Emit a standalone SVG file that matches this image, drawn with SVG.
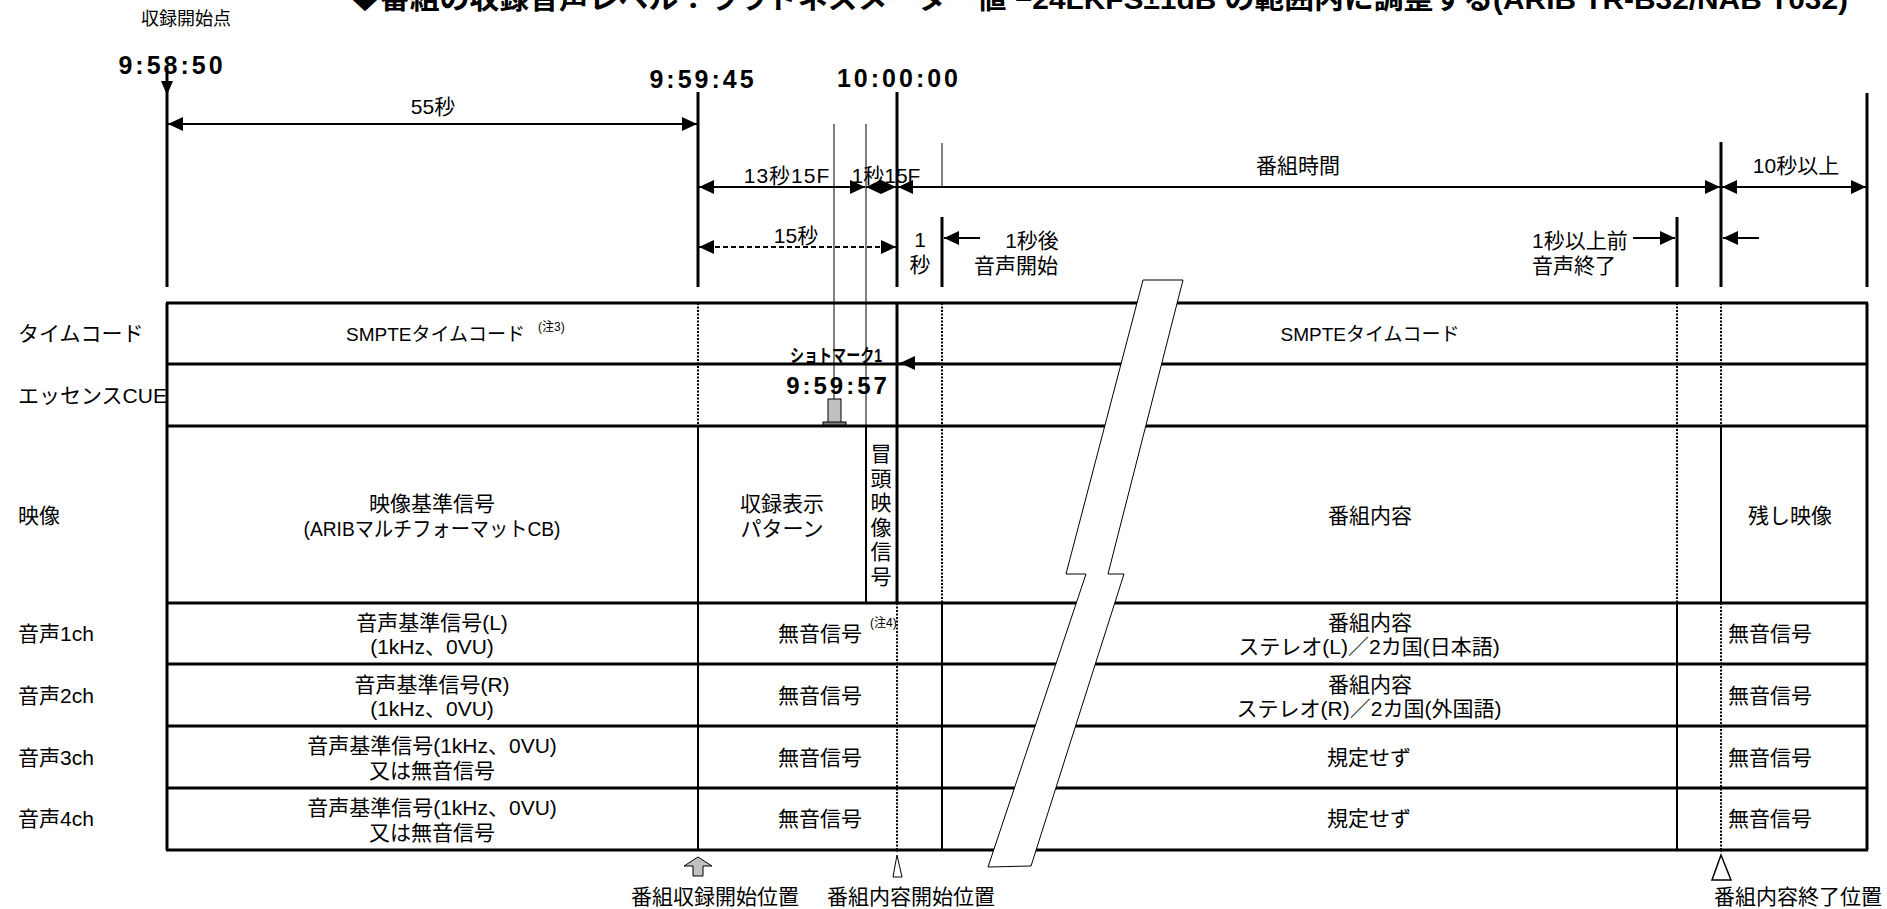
<svg xmlns="http://www.w3.org/2000/svg" width="1887" height="909" viewBox="0 0 1887 909">
<style>
text{font-family:"Liberation Sans","Noto Sans CJK JP",sans-serif;font-size:21px;fill:#000}
.c{text-anchor:middle}
.tm{font-weight:bold;font-size:25px;letter-spacing:3px}
.ttl{font-weight:bold;font-size:28px}
.sup{font-size:12px}
.k{stroke:#000;fill:none}
.w3{stroke-width:3}
.w2{stroke-width:2}
.w1{stroke-width:1}
.dot{stroke-dasharray:2 1.5}
.dash{stroke-dasharray:5 3}
</style>
<defs>
<marker id="ah" markerUnits="userSpaceOnUse" markerWidth="15" markerHeight="14" refX="15" refY="7" orient="auto-start-reverse" viewBox="0 0 15 14">
<path d="M0,0 L15,7 L0,14 z" fill="#000"/>
</marker>
</defs>
<rect width="1887" height="909" fill="#fff"/>

<g id="title">
<text class="ttl" x="350" y="9" textLength="1498" lengthAdjust="spacingAndGlyphs">◆番組の収録音声レベル：ラウドネスメーター値 −24LKFS±1dB の範囲内に調整する(ARIB TR-B32/NAB T032)</text>
</g>

<g id="timeline-labels">
<text class="c" x="186" y="25" style="font-size:18px">収録開始点</text>
<text class="c tm" x="172" y="74">9:58:50</text>
<text class="c tm" x="703" y="88">9:59:45</text>
<text class="c tm" x="899" y="87">10:00:00</text>
<text class="c" x="433" y="114">55秒</text>
<text class="c" x="787" y="183" style="letter-spacing:1px">13秒15F</text>
<text class="c" x="886" y="183">1秒15F</text>
<text class="c" x="796" y="243">15秒</text>
<text class="c" x="920" y="247">1</text>
<text class="c" x="920" y="272">秒</text>
<text class="c" x="1032" y="248">1秒後</text>
<text class="c" x="1016" y="273">音声開始</text>
<text x="1532" y="248">1秒以上前</text>
<text x="1532" y="273">音声終了</text>
<text class="c" x="1298" y="173">番組時間</text>
<text class="c" x="1796" y="173">10秒以上</text>
</g>

<g id="timeline-lines">
<line class="k w3" x1="167" y1="68" x2="167" y2="287"/>
<polygon points="161,81 173,81 167,95" fill="#000"/>
<line class="k w3" x1="698" y1="92" x2="698" y2="287"/>
<line class="k w3" x1="897" y1="92" x2="897" y2="287"/>
<line class="k w3" x1="1867" y1="93" x2="1867" y2="287"/>
<line class="k w3" x1="1721" y1="142" x2="1721" y2="287"/>
<line class="k w1" x1="834" y1="124" x2="834" y2="400"/>
<line class="k w1" x1="866" y1="124" x2="866" y2="426"/>
<line class="k w1" x1="942" y1="143" x2="942" y2="187"/>
<line class="k w3" x1="942" y1="217" x2="942" y2="287"/>
<line class="k w3" x1="1677" y1="217" x2="1677" y2="287"/>
</g>

<g id="connectors">
<line class="k w2" x1="168" y1="124" x2="697" y2="124" marker-start="url(#ah)" marker-end="url(#ah)"/>
<line class="k w2" x1="699" y1="187" x2="865" y2="187" marker-start="url(#ah)" marker-end="url(#ah)"/>
<line class="k w2" x1="866" y1="187" x2="896" y2="187" marker-start="url(#ah)" marker-end="url(#ah)"/>
<line class="k w2" x1="898" y1="187" x2="1720" y2="187" marker-start="url(#ah)" marker-end="url(#ah)"/>
<line class="k w2" x1="1722" y1="187" x2="1866" y2="187" marker-start="url(#ah)" marker-end="url(#ah)"/>
<line class="k w2 dash" x1="699" y1="247" x2="896" y2="247" marker-start="url(#ah)" marker-end="url(#ah)"/>
<line class="k w2" x1="980" y1="238" x2="944" y2="238" marker-end="url(#ah)"/>
<line class="k w2" x1="1633" y1="238" x2="1675" y2="238" marker-end="url(#ah)"/>
<line class="k w2" x1="1759" y1="238" x2="1723" y2="238" marker-end="url(#ah)"/>
<line class="k w1" x1="940" y1="363" x2="900" y2="363" marker-end="url(#ah)"/>
</g>

<g id="table-grid">
<line class="k w3" x1="166" y1="303" x2="1868" y2="303"/>
<line class="k w3" x1="166" y1="364" x2="1868" y2="364"/>
<line class="k w3" x1="166" y1="426" x2="1868" y2="426"/>
<line class="k w3" x1="166" y1="603" x2="1868" y2="603"/>
<line class="k w3" x1="166" y1="664" x2="1868" y2="664"/>
<line class="k w3" x1="166" y1="726" x2="1868" y2="726"/>
<line class="k w3" x1="166" y1="788" x2="1868" y2="788"/>
<line class="k w3" x1="166" y1="850" x2="1868" y2="850"/>
<line class="k w3" x1="167" y1="303" x2="167" y2="850"/>
<line class="k w3" x1="1867" y1="303" x2="1867" y2="850"/>
<line class="k w2 dot" x1="698" y1="303" x2="698" y2="426"/>
<line class="k w2" x1="698" y1="426" x2="698" y2="850"/>
<line class="k w2" x1="866" y1="426" x2="866" y2="603"/>
<line class="k w3" x1="897" y1="303" x2="897" y2="603"/>
<line class="k w2 dot" x1="897" y1="603" x2="897" y2="852"/>
<line class="k w2 dot" x1="942" y1="303" x2="942" y2="603"/>
<line class="k w2" x1="942" y1="603" x2="942" y2="850"/>
<line class="k w2 dot" x1="1677" y1="303" x2="1677" y2="603"/>
<line class="k w2" x1="1677" y1="603" x2="1677" y2="850"/>
<line class="k w2 dot" x1="1721" y1="303" x2="1721" y2="426"/>
<line class="k w2" x1="1721" y1="426" x2="1721" y2="603"/>
<line class="k w2 dot" x1="1721" y1="603" x2="1721" y2="852"/>
</g>

<g id="break-mark">
<polygon points="1143,280 1183,280 1108,574 1124,574 1031,866 988,867 1086,574 1066,574" fill="#fff" stroke="#000" stroke-width="1"/>
</g>

<g id="row-labels">
<text x="18" y="341">タイムコード</text>
<text x="18" y="403">エッセンスCUE</text>
<text x="18" y="523">映像</text>
<text x="18" y="641">音声1ch</text>
<text x="18" y="703">音声2ch</text>
<text x="18" y="765">音声3ch</text>
<text x="18" y="826">音声4ch</text>
</g>

<g id="row-timecode">
<text x="346" y="341" style="font-size:19px">SMPTEタイムコード</text>
<text class="sup" x="538" y="331">(注3)</text>
<text class="c" x="1370" y="341" style="font-size:19px">SMPTEタイムコード</text>
</g>

<g id="shot-mark">
<text class="c" x="836" y="362" style="font-weight:bold;font-size:18px" textLength="92" lengthAdjust="spacingAndGlyphs">ショトマーク1</text>
<text class="c tm" x="838" y="394" style="font-size:24px">9:59:57</text>
<rect x="828" y="399" width="13" height="24" fill="#c0c0c0" stroke="#000" stroke-width="1"/>
<rect x="823" y="422" width="23" height="3" fill="#808080" stroke="#000" stroke-width="1"/>
</g>

<g id="row-video">
<text class="c" x="432" y="511">映像基準信号</text>
<text class="c" x="432" y="536" textLength="257" lengthAdjust="spacingAndGlyphs">(ARIBマルチフォーマットCB)</text>
<text class="c" x="782" y="511">収録表示</text>
<text class="c" x="782" y="536">パターン</text>
<text class="c" x="881" y="461">冒</text>
<text class="c" x="881" y="486">頭</text>
<text class="c" x="881" y="510">映</text>
<text class="c" x="881" y="535">像</text>
<text class="c" x="881" y="559">信</text>
<text class="c" x="881" y="584">号</text>
<text class="c" x="1370" y="523">番組内容</text>
<text class="c" x="1790" y="523">残し映像</text>
</g>

<g id="row-audio1">
<text class="c" x="432" y="630">音声基準信号(L)</text>
<text class="c" x="432" y="654">(1kHz、0VU)</text>
<text class="c" x="820" y="641">無音信号</text>
<text class="sup" x="870" y="627">(注4)</text>
<text class="c" x="1370" y="630">番組内容</text>
<text class="c" x="1369" y="654">ステレオ(L)／2カ国(日本語)</text>
<text x="1728" y="641">無音信号</text>
</g>
<g id="row-audio2">
<text class="c" x="432" y="692">音声基準信号(R)</text>
<text class="c" x="432" y="716">(1kHz、0VU)</text>
<text class="c" x="820" y="703">無音信号</text>
<text class="c" x="1370" y="692">番組内容</text>
<text class="c" x="1369" y="716">ステレオ(R)／2カ国(外国語)</text>
<text x="1728" y="703">無音信号</text>
</g>
<g id="row-audio3">
<text class="c" x="432" y="753">音声基準信号(1kHz、0VU)</text>
<text class="c" x="432" y="778">又は無音信号</text>
<text class="c" x="820" y="765">無音信号</text>
<text class="c" x="1369" y="765">規定せず</text>
<text x="1728" y="765">無音信号</text>
</g>
<g id="row-audio4">
<text class="c" x="432" y="815">音声基準信号(1kHz、0VU)</text>
<text class="c" x="432" y="840">又は無音信号</text>
<text class="c" x="820" y="826">無音信号</text>
<text class="c" x="1369" y="826">規定せず</text>
<text x="1728" y="826">無音信号</text>
</g>

<g id="bottom-markers">
<polygon points="698,857 712,866 703,866 703,876 693,876 693,866 684,866" fill="#c0c0c0" stroke="#000" stroke-width="1"/>
<polygon points="897,855 893,877 902,877" fill="#fff" stroke="#000" stroke-width="1"/>
<polygon points="1721,855 1712,880 1731,880" fill="#fff" stroke="#000" stroke-width="1.5"/>
<text class="c" x="715" y="904">番組収録開始位置</text>
<text class="c" x="911" y="904">番組内容開始位置</text>
<text class="c" x="1798" y="904">番組内容終了位置</text>
</g>
</svg>
